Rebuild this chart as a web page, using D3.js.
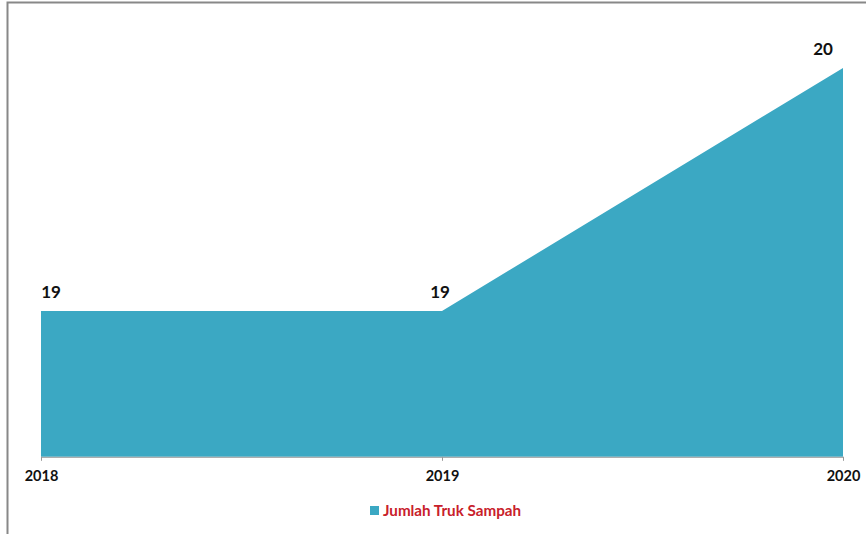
<!DOCTYPE html>
<html>
<head>
<meta charset="utf-8">
<script src="https://cdn.jsdelivr.net/npm/d3@7"></script>
<style>
  body { margin: 0; background: #fff; }
  svg { display: block; }
  text { font-family: Lato, "Open Sans", sans-serif; }
</style>
</head>
<body>
<svg id="chart" width="866" height="534"></svg>
<script>
const years = ["2018", "2019", "2020"];
const values = [19, 19, 20];
const seriesName = "Jumlah Truk Sampah";
const labelOffsets = [10, -2, -20];

const svg = d3.select("#chart");
const W = 866, H = 534;

// outer border (only left/top visible in frame)
svg.append("rect")
  .attr("x", 7.5).attr("y", 2.5)
  .attr("width", W + 20).attr("height", H + 20)
  .attr("fill", "none").attr("stroke", "#888").attr("stroke-width", 2);

const x = d3.scalePoint().domain(years).range([41, 843]);
const y = d3.scaleLinear().domain([18.4, 20.2]).range([456.8, 19.4]);

const data = years.map((yr, i) => ({ yr, v: values[i], off: labelOffsets[i] }));

const area = d3.area()
  .x(d => x(d.yr))
  .y0(y(18.4))
  .y1(d => y(d.v));

svg.append("path")
  .datum(data)
  .attr("d", area)
  .attr("fill", "#3ba8c3");

const axis = svg.append("g")
  .attr("transform", `translate(0,${y(18.4)})`)
  .call(d3.axisBottom(x).tickSize(4).tickSizeOuter(0).tickPadding(10));
axis.select(".domain").attr("stroke", "#999");
axis.selectAll(".tick line").attr("stroke", "#999");
axis.selectAll(".tick text")
  .attr("fill", "#111")
  .attr("font-size", 14.5)
  .attr("font-weight", "bold")
  .attr("font-family", "Lato, sans-serif");

svg.append("g").selectAll("text")
  .data(data)
  .join("text")
  .attr("x", d => x(d.yr) + d.off)
  .attr("y", d => y(d.v) - 13)
  .attr("text-anchor", "middle")
  .attr("font-size", 17)
  .attr("font-weight", "bold")
  .attr("fill", "#111")
  .text(d => d.v);

const legend = svg.append("g").attr("transform", "translate(370,506)");
legend.append("rect")
  .attr("width", 9).attr("height", 9)
  .attr("fill", "#3ba8c3");
legend.append("text")
  .attr("x", 13).attr("y", 10)
  .attr("font-size", 15.2)
  .attr("font-weight", "bold")
  .attr("fill", "#c8202a")
  .text(seriesName);
</script>
</body>
</html>
